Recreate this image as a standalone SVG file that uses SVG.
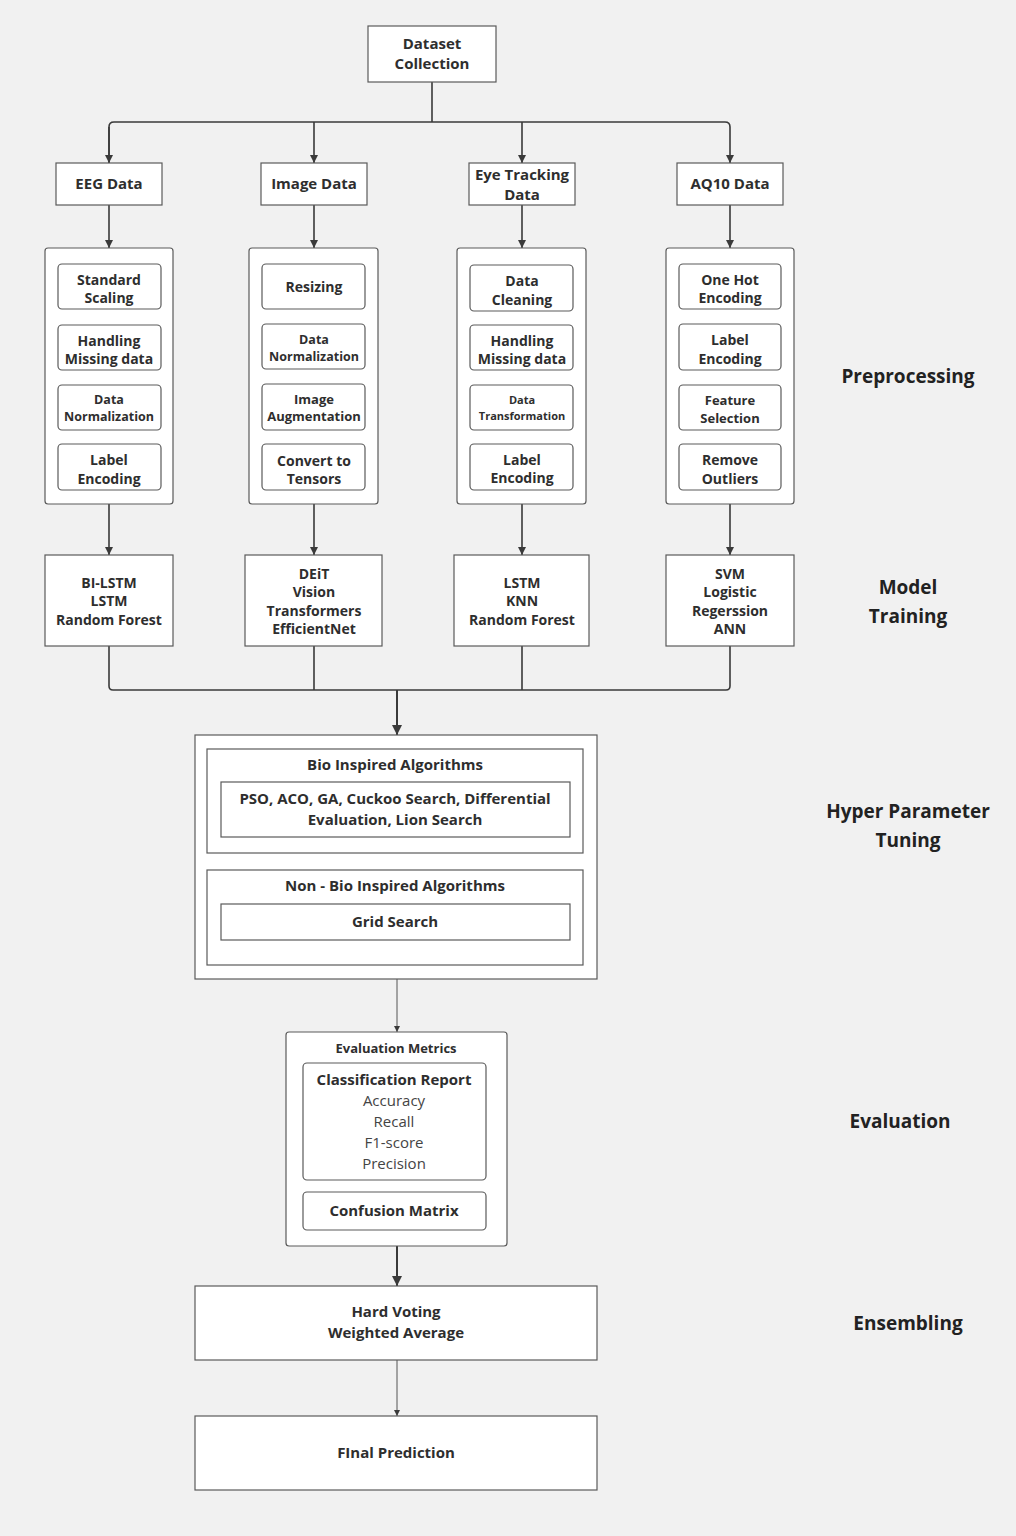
<svg xmlns="http://www.w3.org/2000/svg" width="1016" height="1536" viewBox="0 0 1016 1536">
  <defs>
    <marker id="arr" viewBox="0 0 10 10" refX="10" refY="5" markerWidth="5" markerHeight="5" orient="auto" markerUnits="strokeWidth">
      <path d="M0,0 L10,5 L0,10 z" fill="#3a3a3a"/>
    </marker>
    <marker id="arrS" viewBox="0 0 10 10" refX="10" refY="5" markerWidth="6" markerHeight="6" orient="auto" markerUnits="strokeWidth">
      <path d="M0,0 L10,5 L0,10 z" fill="#3a3a3a"/>
    </marker>
  </defs>
  <style>
    .box { fill: #ffffff; stroke: #5a5a5a; stroke-width: 1.2; }
    .inner { fill: #ffffff; stroke: #5a5a5a; stroke-width: 1.2; }
    .t { font-family: "Open Sans", "Liberation Sans", sans-serif; font-weight: 700; fill: #2e2e2e; text-anchor: middle; }
    .r { font-family: "Open Sans", "Liberation Sans", sans-serif; font-weight: 400; fill: #444444; text-anchor: middle; }
    .stage { font-family: "Open Sans", "Liberation Sans", sans-serif; font-weight: 700; fill: #222222; text-anchor: middle; font-size: 19px; }
    .c { fill: none; stroke: #3a3a3a; stroke-width: 1.6; }
    .cs { fill: none; stroke: #555555; stroke-width: 1; }
  </style>
  <rect width="1016" height="1536" fill="#f1f1f1"/>

  <!-- connectors -->
  <g id="connectors">
    <path class="c" d="M432,82 V122"/>
    <path class="c" d="M109,163 V127 Q109,122 114,122 H725 Q730,122 730,127 V163" marker-end="url(#arr)"/>
    <path class="c" d="M109,127 V163" marker-end="url(#arr)"/>
    <path class="c" d="M314,122 V163" marker-end="url(#arr)"/>
    <path class="c" d="M522,122 V163" marker-end="url(#arr)"/>
    <path class="c" d="M109,205 V248" marker-end="url(#arr)"/>
    <path class="c" d="M314,205 V248" marker-end="url(#arr)"/>
    <path class="c" d="M522,205 V248" marker-end="url(#arr)"/>
    <path class="c" d="M730,205 V248" marker-end="url(#arr)"/>
    <path class="c" d="M109,504 V555" marker-end="url(#arr)"/>
    <path class="c" d="M314,504 V555" marker-end="url(#arr)"/>
    <path class="c" d="M522,504 V555" marker-end="url(#arr)"/>
    <path class="c" d="M730,504 V555" marker-end="url(#arr)"/>
    <path class="c" d="M109,646 V686 Q109,690 113,690 H726 Q730,690 730,686 V646"/>
    <path class="c" d="M314,646 V690"/>
    <path class="c" d="M522,646 V690"/>
    <path class="c" d="M397,690 V735" marker-end="url(#arr)" style="stroke-width:2"/>
    <path class="cs" d="M397,979 V1032" marker-end="url(#arrS)"/>
    <path class="c" d="M397,1246 V1286" marker-end="url(#arr)" style="stroke-width:2"/>
    <path class="cs" d="M397,1360 V1416" marker-end="url(#arrS)"/>
  </g>

  <!-- source -->
  <g id="dataset-collection">
    <rect class="box" x="368" y="26" width="128" height="56"/>
    <text class="t" font-size="15" x="432" y="49">Dataset</text>
    <text class="t" font-size="15" x="432" y="69">Collection</text>
  </g>

  <!-- data sources -->
  <g id="eeg-data">
    <rect class="box" x="56" y="163" width="106" height="42"/>
    <text class="t" font-size="15" x="109" y="189">EEG Data</text>
  </g>
  <g id="image-data">
    <rect class="box" x="261" y="163" width="106" height="42"/>
    <text class="t" font-size="15" x="314" y="189">Image Data</text>
  </g>
  <g id="eye-tracking-data">
    <rect class="box" x="469" y="163" width="106" height="42"/>
    <text class="t" font-size="15" x="522" y="180">Eye Tracking</text>
    <text class="t" font-size="15" x="522" y="200">Data</text>
  </g>
  <g id="aq10-data">
    <rect class="box" x="677" y="163" width="106" height="42"/>
    <text class="t" font-size="15" x="730" y="189">AQ10 Data</text>
  </g>

  <!-- preprocessing: EEG -->
  <g id="pre-eeg">
    <rect class="box" x="45" y="248" width="128" height="256" rx="3"/>
    <rect class="inner" x="58" y="264" width="103" height="45" rx="4"/>
    <text class="t" font-size="14" x="109" y="285">Standard</text>
    <text class="t" font-size="14" x="109" y="303">Scaling</text>
    <rect class="inner" x="58" y="325" width="103" height="45" rx="4"/>
    <text class="t" font-size="14" x="109" y="346">Handling</text>
    <text class="t" font-size="14" x="109" y="364">Missing data</text>
    <rect class="inner" x="58" y="385" width="103" height="45" rx="4"/>
    <text class="t" font-size="12.5" x="109" y="404">Data</text>
    <text class="t" font-size="12.5" x="109" y="421">Normalization</text>
    <rect class="inner" x="58" y="444" width="103" height="46" rx="4"/>
    <text class="t" font-size="14" x="109" y="465">Label</text>
    <text class="t" font-size="14" x="109" y="484">Encoding</text>
  </g>

  <!-- preprocessing: Image -->
  <g id="pre-image">
    <rect class="box" x="249" y="248" width="129" height="256" rx="3"/>
    <rect class="inner" x="262" y="264" width="103" height="45" rx="4"/>
    <text class="t" font-size="14" x="314" y="292">Resizing</text>
    <rect class="inner" x="262" y="324" width="103" height="45" rx="4"/>
    <text class="t" font-size="12.5" x="314" y="344">Data</text>
    <text class="t" font-size="12.5" x="314" y="361">Normalization</text>
    <rect class="inner" x="262" y="384" width="103" height="46" rx="4"/>
    <text class="t" font-size="13" x="314" y="404">Image</text>
    <text class="t" font-size="13" x="314" y="421">Augmentation</text>
    <rect class="inner" x="262" y="444" width="103" height="46" rx="4"/>
    <text class="t" font-size="14" x="314" y="466">Convert to</text>
    <text class="t" font-size="14" x="314" y="484">Tensors</text>
  </g>

  <!-- preprocessing: Eye tracking -->
  <g id="pre-eye">
    <rect class="box" x="457" y="248" width="129" height="256" rx="3"/>
    <rect class="inner" x="470" y="265" width="103" height="46" rx="4"/>
    <text class="t" font-size="14" x="522" y="286">Data</text>
    <text class="t" font-size="14" x="522" y="305">Cleaning</text>
    <rect class="inner" x="470" y="325" width="103" height="45" rx="4"/>
    <text class="t" font-size="14" x="522" y="346">Handling</text>
    <text class="t" font-size="14" x="522" y="364">Missing data</text>
    <rect class="inner" x="470" y="385" width="103" height="45" rx="4"/>
    <text class="t" font-size="11" x="522" y="404">Data</text>
    <text class="t" font-size="11" x="522" y="420">Transformation</text>
    <rect class="inner" x="470" y="444" width="103" height="46" rx="4"/>
    <text class="t" font-size="14" x="522" y="465">Label</text>
    <text class="t" font-size="14" x="522" y="483">Encoding</text>
  </g>

  <!-- preprocessing: AQ10 -->
  <g id="pre-aq10">
    <rect class="box" x="666" y="248" width="128" height="256" rx="3"/>
    <rect class="inner" x="679" y="264" width="102" height="45" rx="4"/>
    <text class="t" font-size="14" x="730" y="285">One Hot</text>
    <text class="t" font-size="14" x="730" y="303">Encoding</text>
    <rect class="inner" x="679" y="324" width="102" height="46" rx="4"/>
    <text class="t" font-size="14" x="730" y="345">Label</text>
    <text class="t" font-size="14" x="730" y="364">Encoding</text>
    <rect class="inner" x="679" y="385" width="102" height="45" rx="4"/>
    <text class="t" font-size="13" x="730" y="405">Feature</text>
    <text class="t" font-size="13" x="730" y="423">Selection</text>
    <rect class="inner" x="679" y="444" width="102" height="46" rx="4"/>
    <text class="t" font-size="14" x="730" y="465">Remove</text>
    <text class="t" font-size="14" x="730" y="484">Outliers</text>
  </g>

  <!-- model training -->
  <g id="model-eeg">
    <rect class="box" x="45" y="555" width="128" height="91"/>
    <text class="t" font-size="14" x="109" y="588">BI-LSTM</text>
    <text class="t" font-size="14" x="109" y="606">LSTM</text>
    <text class="t" font-size="14" x="109" y="625">Random Forest</text>
  </g>
  <g id="model-image">
    <rect class="box" x="245" y="555" width="137" height="91"/>
    <text class="t" font-size="14" x="314" y="579">DEiT</text>
    <text class="t" font-size="14" x="314" y="597">Vision</text>
    <text class="t" font-size="14" x="314" y="616">Transformers</text>
    <text class="t" font-size="14" x="314" y="634">EfficientNet</text>
  </g>
  <g id="model-eye">
    <rect class="box" x="454" y="555" width="135" height="91"/>
    <text class="t" font-size="14" x="522" y="588">LSTM</text>
    <text class="t" font-size="14" x="522" y="606">KNN</text>
    <text class="t" font-size="14" x="522" y="625">Random Forest</text>
  </g>
  <g id="model-aq10">
    <rect class="box" x="666" y="555" width="128" height="91"/>
    <text class="t" font-size="14" x="730" y="579">SVM</text>
    <text class="t" font-size="14" x="730" y="597">Logistic</text>
    <text class="t" font-size="14" x="730" y="616">Regerssion</text>
    <text class="t" font-size="14" x="730" y="634">ANN</text>
  </g>

  <!-- hyper parameter tuning -->
  <g id="hyper-parameter-tuning">
    <rect class="box" x="195" y="735" width="402" height="244"/>
    <rect class="inner" x="207" y="749" width="376" height="104"/>
    <text class="t" font-size="15" x="395" y="770">Bio Inspired Algorithms</text>
    <rect class="inner" x="221" y="782" width="349" height="55"/>
    <text class="t" font-size="15" x="395" y="804">PSO, ACO, GA, Cuckoo Search, Differential</text>
    <text class="t" font-size="15" x="395" y="825">Evaluation, Lion Search</text>
    <rect class="inner" x="207" y="870" width="376" height="95"/>
    <text class="t" font-size="15" x="395" y="891">Non - Bio Inspired Algorithms</text>
    <rect class="inner" x="221" y="904" width="349" height="36"/>
    <text class="t" font-size="15" x="395" y="927">Grid Search</text>
  </g>

  <!-- evaluation -->
  <g id="evaluation-metrics">
    <rect class="box" x="286" y="1032" width="221" height="214" rx="3"/>
    <text class="t" font-size="13" x="396" y="1053">Evaluation Metrics</text>
    <rect class="inner" x="303" y="1063" width="183" height="117" rx="4"/>
    <text class="t" font-size="15" x="394" y="1085">Classification Report</text>
    <text class="r" font-size="15" x="394" y="1106">Accuracy</text>
    <text class="r" font-size="15" x="394" y="1127">Recall</text>
    <text class="r" font-size="15" x="394" y="1148">F1-score</text>
    <text class="r" font-size="15" x="394" y="1169">Precision</text>
    <rect class="inner" x="303" y="1192" width="183" height="38" rx="4"/>
    <text class="t" font-size="15" x="394" y="1216">Confusion Matrix</text>
  </g>

  <!-- ensembling -->
  <g id="ensembling">
    <rect class="box" x="195" y="1286" width="402" height="74"/>
    <text class="t" font-size="15" x="396" y="1317">Hard Voting</text>
    <text class="t" font-size="15" x="396" y="1338">Weighted Average</text>
  </g>

  <g id="final-prediction">
    <rect class="box" x="195" y="1416" width="402" height="74"/>
    <text class="t" font-size="15" x="396" y="1458">FInal Prediction</text>
  </g>

  <!-- stage labels -->
  <g id="stage-labels">
    <text class="stage" x="908" y="383">Preprocessing</text>
    <text class="stage" x="908" y="594">Model</text>
    <text class="stage" x="908" y="623">Training</text>
    <text class="stage" x="908" y="818">Hyper Parameter</text>
    <text class="stage" x="908" y="847">Tuning</text>
    <text class="stage" x="900" y="1128">Evaluation</text>
    <text class="stage" x="908" y="1330">Ensembling</text>
  </g>
</svg>
